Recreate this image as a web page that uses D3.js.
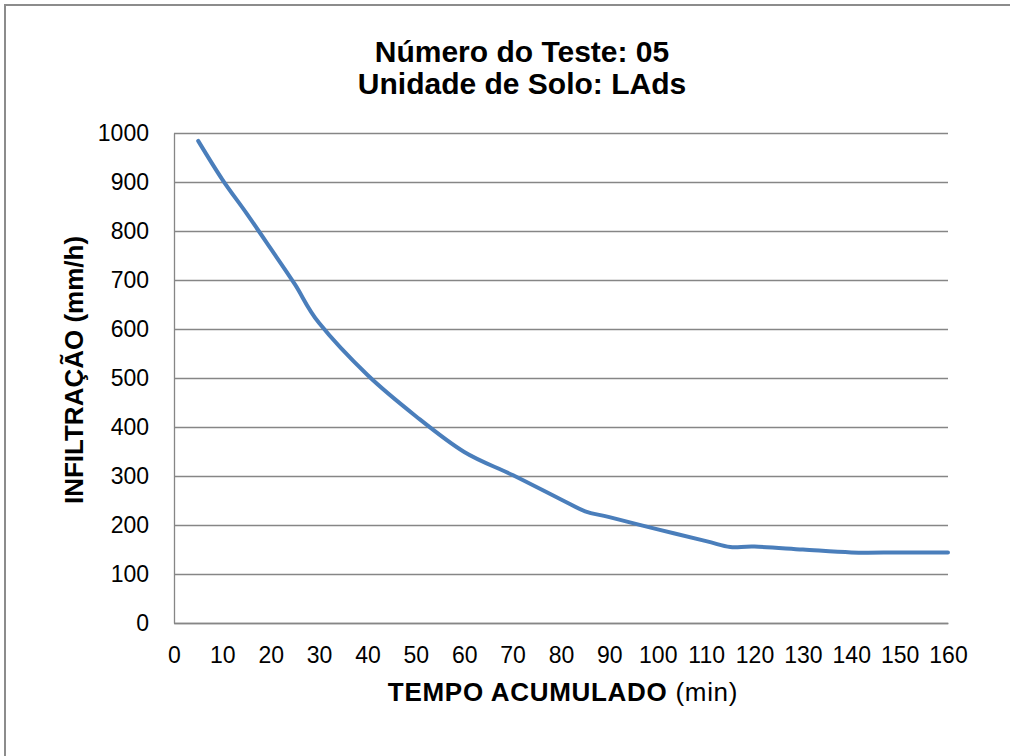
<!DOCTYPE html>
<html>
<head>
<meta charset="utf-8">
<script src="https://cdn.jsdelivr.net/npm/d3@7"></script>
<style>
  html, body { margin: 0; padding: 0; background: #ffffff; }
  svg { display: block; font-family: "Liberation Sans", Arial, sans-serif; }
</style>
</head>
<body>
<svg id="chart" width="1010" height="756"></svg>
<script>
// ---- data ----
const titleLines = ["Número do Teste: 05", "Unidade de Solo: LAds"];
const xTitleBold = "TEMPO ACUMULADO";
const xTitleRegular = " (min)";
const yTitle = "INFILTRAÇÃO (mm/h)";
const xTicks = [0, 10, 20, 30, 40, 50, 60, 70, 80, 90, 100, 110, 120, 130, 140, 150, 160];
const yTicks = [0, 100, 200, 300, 400, 500, 600, 700, 800, 900, 1000];
const times = [5, 10, 15, 20, 25, 30, 40, 50, 60, 70, 80, 85, 90, 100, 110, 115, 120, 130, 140, 150, 160];
const infiltration = [984, 905, 836, 764, 691, 612, 506, 422, 349, 302, 252, 228, 216, 191, 167, 155, 156, 150, 144, 144, 144];

// ---- layout ----
const svg = d3.select("#chart");
const plot = { left: 174, right: 948, top: 133, bottom: 623 };
const gridColor = "#868686";

// outer chart border (extends beyond the visible window)
svg.append("rect")
  .attr("x", 5).attr("y", 5)
  .attr("width", 1040).attr("height", 800)
  .attr("fill", "#ffffff")
  .attr("stroke", "#8c8c8c").attr("stroke-width", 2);

const x = d3.scaleLinear().domain([0, 160]).range([plot.left, plot.right]);
const y = d3.scaleLinear().domain([0, 1000]).range([plot.bottom, plot.top]);

// gridlines
const yGrid = d3.axisLeft(y).tickValues(yTicks).tickSize(-(plot.right - plot.left)).tickFormat("");
const gGrid = svg.append("g").attr("transform", `translate(${plot.left},0)`).call(yGrid);
gGrid.select(".domain").remove();
gGrid.selectAll("line").attr("stroke", gridColor).attr("stroke-width", 1.3);

// y axis labels
const yAxis = d3.axisLeft(y).tickValues(yTicks).tickSize(0).tickPadding(25).tickFormat(d3.format("d"));
const gY = svg.append("g").attr("transform", `translate(${plot.left},0)`).call(yAxis);
gY.select(".domain").attr("stroke", gridColor).attr("stroke-width", 1.3);
gY.selectAll("text").attr("font-size", 23).attr("fill", "#000").attr("font-family", "Liberation Sans, Arial, sans-serif");

// x axis
const xAxis = d3.axisBottom(x).tickValues(xTicks).tickSize(0).tickPadding(24).tickFormat(d3.format("d"));
const gX = svg.append("g").attr("transform", `translate(0,${plot.bottom})`).call(xAxis);
gX.select(".domain").attr("stroke", gridColor).attr("stroke-width", 1.3);
gX.selectAll("text").attr("font-size", 23).attr("fill", "#000").attr("font-family", "Liberation Sans, Arial, sans-serif");

// data line
const data = times.map((t, i) => ({ t, v: infiltration[i] }));
const line = d3.line()
  .x(d => x(d.t))
  .y(d => y(d.v))
  .curve(d3.curveCardinal.tension(0));
svg.append("path")
  .datum(data)
  .attr("d", line)
  .attr("fill", "none")
  .attr("stroke", "#4A7EBB")
  .attr("stroke-width", 4)
  .attr("stroke-linecap", "round")
  .attr("stroke-linejoin", "round");

// title
const title = svg.append("text")
  .attr("x", 522).attr("text-anchor", "middle")
  .attr("font-size", 30).attr("font-weight", "bold").attr("fill", "#000");
title.append("tspan").attr("x", 522).attr("y", 61.5).text(titleLines[0]);
title.append("tspan").attr("x", 522).attr("y", 94).text(titleLines[1]);

// x axis title
const xt = svg.append("text")
  .attr("x", 563).attr("y", 701)
  .attr("text-anchor", "middle").attr("font-size", 26)
  .attr("letter-spacing", 0.7).attr("fill", "#000");
xt.append("tspan").attr("font-weight", "bold").text(xTitleBold);
xt.append("tspan").attr("font-weight", "normal").text(xTitleRegular);

// y axis title
svg.append("text")
  .attr("transform", `translate(83,370) rotate(-90)`)
  .attr("text-anchor", "middle")
  .attr("font-size", 26).attr("font-weight", "bold").attr("fill", "#000")
  .text(yTitle);
</script>
</body>
</html>
